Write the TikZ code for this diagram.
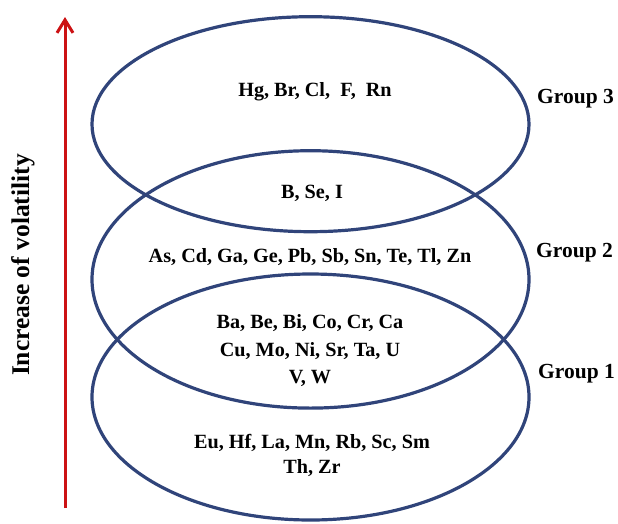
\documentclass[tikz,border=0pt]{standalone}
\usepackage{fontspec}
\setmainfont{Liberation Serif}
\usetikzlibrary{arrows.meta}
\definecolor{ringblue}{RGB}{48,68,122}
\definecolor{arrowred}{RGB}{204,18,20}
\begin{document}
\begin{tikzpicture}[x=1pt,y=-1pt,
  ring/.style={draw=ringblue,line width=3.2pt},
  elem/.style={font=\bfseries\fontsize{20.2}{27}\selectfont,align=center,inner sep=0pt},
  grouplabel/.style={font=\bfseries\fontsize{21.5}{24}\selectfont,anchor=west,inner sep=0pt},
  volarrow/.style={draw=arrowred,line width=3pt,-{Straight Barb[length=13pt,width=16pt,line width=3pt]}}]
\useasboundingbox (0,0) rectangle (618,523);
% ellipses
\coordinate (c3) at (310.5,124.2);
\coordinate (c2) at (310.5,279.4);
\coordinate (c1) at (310.5,397);
\draw[ring] (c3) ellipse [x radius=218.5, y radius=107.5];
\draw[ring] (c2) ellipse [x radius=218.5, y radius=128.7];
\draw[ring] (c1) ellipse [x radius=218.5, y radius=123];
% arrow
\coordinate (abot) at (65,508);
\coordinate (atop) at (65,17);
\draw[volarrow] (abot) -- (atop);
\node[font=\bfseries\fontsize{25.5}{30}\selectfont,rotate=90,inner sep=0pt] (vol) at (23,265) {Increase of volatility};
% element texts
\node[elem] (g3) at (315,92) {Hg, Br, Cl,\ \ F,\ \ Rn};
\node[elem] (g23) at (312,193) {B, Se, I};
\node[elem] (g2) at (310,257) {As, Cd, Ga, Ge, Pb, Sb, Sn, Te, Tl, Zn};
\node[elem,font=\bfseries\fontsize{20.2}{27.5}\selectfont] (g12) at (310,351) {Ba, Be, Bi, Co, Cr,\ Ca\\Cu, Mo, Ni, Sr, Ta, U\\V, W};
\node[elem,font=\bfseries\fontsize{20.2}{25}\selectfont] (g1) at (312,455) {Eu, Hf, La, Mn, Rb, Sc, Sm\\Th, Zr};
% group labels
\node[grouplabel] (G3) at (537,99) {Group 3};
\node[grouplabel] (G2) at (536,253) {Group 2};
\node[grouplabel] (G1) at (538,374) {Group 1};
\end{tikzpicture}
\end{document}
